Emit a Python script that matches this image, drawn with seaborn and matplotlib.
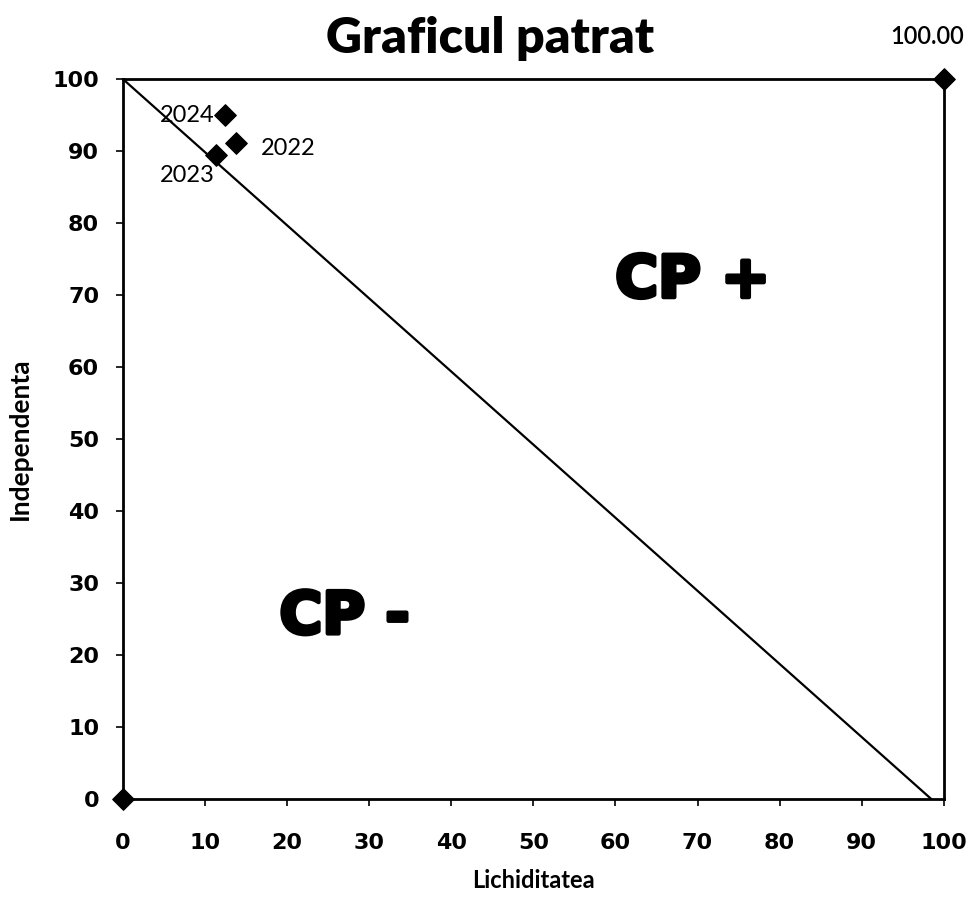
import matplotlib
matplotlib.use("Agg")
import matplotlib.pyplot as plt
import matplotlib.patheffects as pe
import seaborn as sns
import pandas as pd

# Data
years = ["2022", "2023", "2024"]
lichiditate = [13.8, 11.4, 12.5]
independenta = [91.1, 89.4, 95.0]
corner_x = [0, 100]
corner_y = [0, 100]
corner_labels = ["", "100.00"]
diag_x = [0, 98.5]
diag_y = [100, 0]
ticks = list(range(0, 101, 10))

sns.set_theme(style="white")
plt.rcParams['font.family'] = ['DejaVu Sans']
plt.rcParams['text.color'] = 'black'
plt.rcParams['axes.labelcolor'] = 'black'
plt.rcParams['xtick.color'] = 'black'
plt.rcParams['ytick.color'] = 'black'

fig = plt.figure(figsize=(9.75, 8.98), dpi=100)
ax = fig.add_axes([0.126, 0.110, 0.842, 0.802])

df_pts = pd.DataFrame({"x": lichiditate, "y": independenta, "an": years})
df_corner = pd.DataFrame({"x": corner_x, "y": corner_y})
df_diag = pd.DataFrame({"x": diag_x, "y": diag_y})

sns.lineplot(data=df_diag, x="x", y="y", ax=ax, color="black", linewidth=1.6, sort=False)
sns.scatterplot(data=df_pts, x="x", y="y", ax=ax, marker="D", s=120, color="black",
                edgecolor="black", zorder=5, clip_on=False)
sns.scatterplot(data=df_corner, x="x", y="y", ax=ax, marker="D", s=120, color="black",
                edgecolor="black", zorder=5, clip_on=False)

ax.set_xlim(0, 100)
ax.set_ylim(0, 100)
ax.set_xticks(ticks)
ax.set_yticks(ticks)
ax.set_xticklabels([str(t) for t in ticks], fontsize=16, fontweight="bold")
ax.set_yticklabels([str(t) for t in ticks], fontsize=16, fontweight="bold")
ax.tick_params(axis="both", direction="out", length=5, width=1.2, color="black",
               left=True, bottom=True)
ax.tick_params(axis="y", pad=12)
ax.tick_params(axis="x", pad=19)

for s in ax.spines.values():
    s.set_visible(True)
    s.set_color("black")
    s.set_linewidth(2.0)

ax.set_xlabel("Lichiditatea", fontsize=17, fontweight="bold", family=["Lato", "DejaVu Sans"], labelpad=12)
ax.set_ylabel("Independenta", fontsize=19, fontweight="bold", family=["Lato", "DejaVu Sans"], labelpad=15)

# point labels
offsets = {"2022": (3.0, -0.7, "left", "center"),
           "2023": (-0.2, -2.8, "right", "center"),
           "2024": (-1.3, 0.0, "right", "center")}
for xv, yv, lab in zip(lichiditate, independenta, years):
    dx, dy, ha, va = offsets[lab]
    ax.text(xv + dx, yv + dy, lab, fontsize=17, ha=ha, va=va, family=["Lato", "DejaVu Sans"])
for xv, yv, lab in zip(corner_x, corner_y, corner_labels):
    if lab:
        ax.text(xv - 2, yv + 4.3, lab, fontsize=17, ha="center", va="bottom",
                fontweight="semibold", family=["Lato", "DejaVu Sans"])

stroke = [pe.withStroke(linewidth=3, foreground="black")]
ax.text(69.4, 72, "CP +", fontsize=42, fontweight="bold", ha="center", va="center",
        path_effects=stroke)
ax.text(27, 25.3, "CP -", fontsize=42, fontweight="bold", ha="center", va="center",
        path_effects=stroke)

fig.text(0.503, 0.957, "Graficul patrat", fontsize=36, fontweight="heavy", ha="center",
         va="center", family=["Lato", "DejaVu Sans"])

fig.savefig("out.png", dpi=100, facecolor="white")
